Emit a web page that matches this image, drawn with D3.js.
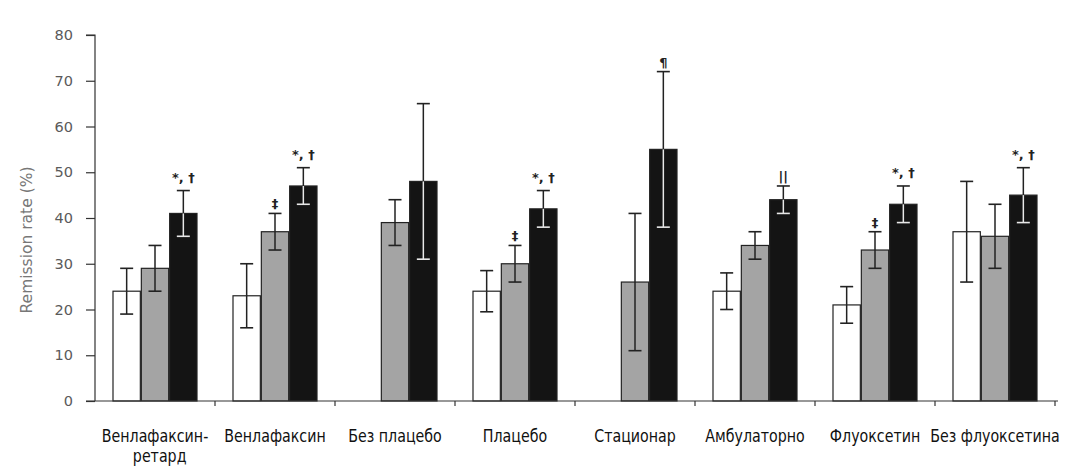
<!DOCTYPE html>
<html>
<head>
<meta charset="utf-8">
<script src="https://cdn.jsdelivr.net/npm/d3@7"></script>
<style>
  body { margin: 0; background: #fff; }
  svg { display: block; }
</style>
</head>
<body>
<div id="chart"></div>
<script>
  // group labels (one array per line of text)
  const categories = [
    ["Венлафаксин-", "ретард"],
    ["Венлафаксин"],
    ["Без плацебо"],
    ["Плацебо"],
    ["Стационар"],
    ["Амбулаторно"],
    ["Флуоксетин"],
    ["Без флуоксетина"]
  ];
  const seriesNames = ["white", "gray", "black"];

  // remission rate, %  (null = no bar)
  const whiteValues = [24, 23, null, 24, null, 24, 21, 37];
  const whiteErrors = [5, 7, null, 4.5, null, 4, 4, 11];
  const grayValues = [29, 37, 39, 30, 26, 34, 33, 36];
  const grayErrors = [5, 4, 5, 4, 15, 3, 4, 7];
  const blackValues = [41, 47, 48, 42, 55, 44, 43, 45];
  const blackErrors = [5, 4, 17, 4, 17, 3, 4, 6];

  const yTicks = [0, 10, 20, 30, 40, 50, 60, 70, 80];

  // significance marks: group index, series index, text
  const marks = [
    [0, 2, "*, †"],
    [1, 1, "‡"],
    [1, 2, "*, †"],
    [3, 1, "‡"],
    [3, 2, "*, †"],
    [4, 2, "¶"],
    [5, 2, "||"],
    [6, 1, "‡"],
    [6, 2, "*, †"],
    [7, 2, "*, †"]
  ];

  const width = 1071, height = 468;
  const mLeft = 95, mRight = 1055, mTop = 35, mBottom = 401;

  const fills = { white: "#ffffff", gray: "#a4a4a4", black: "#141414" };
  const values = { white: whiteValues, gray: grayValues, black: blackValues };
  const errors = { white: whiteErrors, gray: grayErrors, black: blackErrors };

  const svg = d3.select("#chart")
    .append("svg")
    .attr("width", width)
    .attr("height", height)
    .attr("viewBox", `0 0 ${width} ${height}`);

  const x0 = d3.scaleBand()
    .domain(d3.range(categories.length))
    .range([mLeft, mRight])
    .padding(0);

  const groupWidth = 85;
  const x1 = d3.scaleBand()
    .domain(seriesNames)
    .range([0, groupWidth]);
  const offset = (x0.bandwidth() - groupWidth) / 2;

  const y = d3.scaleLinear().domain([0, 80]).range([mBottom, mTop]);

  // y axis
  const yAxis = svg.append("g")
    .attr("transform", `translate(${mLeft},0)`)
    .call(d3.axisLeft(y).tickValues(yTicks).tickSize(9).tickPadding(13));
  yAxis.select(".domain").attr("stroke", "#333").attr("stroke-width", 1.2)
    .attr("d", `M-9,${mTop}H0V${mBottom}`);
  yAxis.selectAll(".tick line").attr("stroke", "#333").attr("stroke-width", 1.2);
  yAxis.selectAll(".tick text")
    .attr("fill", "#5a5a5a")
    .style("font-family", "'DejaVu Sans', sans-serif")
    .style("font-size", "14.5px");

  svg.append("text")
    .attr("transform", `translate(32,240) rotate(-90)`)
    .attr("text-anchor", "middle")
    .attr("fill", "#777")
    .style("font-family", "'DejaVu Sans', sans-serif")
    .style("font-size", "15.5px")
    .text("Remission rate (%)");

  // bars
  const rows = [];
  categories.forEach((c, g) => {
    seriesNames.forEach(s => {
      if (values[s][g] != null) rows.push({ g, s, v: values[s][g], e: errors[s][g] });
    });
  });

  const bx = d => x0(d.g) + offset + x1(d.s);
  const bw = x1.bandwidth();

  svg.append("g")
    .selectAll("rect")
    .data(rows)
    .enter()
    .append("rect")
    .attr("x", d => bx(d) + 0.5)
    .attr("y", d => y(d.v))
    .attr("width", bw - 1)
    .attr("height", d => y(0) - y(d.v))
    .attr("fill", d => fills[d.s])
    .attr("stroke", "#222")
    .attr("stroke-width", 1.2);

  // error bars: part above the bar dark, part inside contrasting
  const errs = svg.append("g");
  rows.forEach(d => {
    const cx = bx(d) + bw / 2;
    const inner = d.s === "black" ? "#e8e8e8" : "#222";
    errs.append("line")
      .attr("x1", cx).attr("x2", cx)
      .attr("y1", y(d.v + d.e)).attr("y2", y(d.v))
      .attr("stroke", "#222").attr("stroke-width", 1.5);
    errs.append("line")
      .attr("x1", cx - 6.5).attr("x2", cx + 6.5)
      .attr("y1", y(d.v + d.e)).attr("y2", y(d.v + d.e))
      .attr("stroke", "#222").attr("stroke-width", 1.6);
    errs.append("line")
      .attr("x1", cx).attr("x2", cx)
      .attr("y1", y(d.v)).attr("y2", y(d.v - d.e))
      .attr("stroke", inner).attr("stroke-width", 1.5);
    errs.append("line")
      .attr("x1", cx - 6.5).attr("x2", cx + 6.5)
      .attr("y1", y(d.v - d.e)).attr("y2", y(d.v - d.e))
      .attr("stroke", inner).attr("stroke-width", 1.6);
  });

  // x axis with ticks at group boundaries
  const xa = svg.append("g");
  xa.append("line")
    .attr("x1", mLeft - 9).attr("x2", mRight + 3)
    .attr("y1", mBottom).attr("y2", mBottom)
    .attr("stroke", "#333").attr("stroke-width", 1.2);
  xa.selectAll(".xtick")
    .data(d3.range(1, categories.length + 1))
    .enter()
    .append("line")
    .attr("x1", g => mLeft + g * x0.step())
    .attr("x2", g => mLeft + g * x0.step())
    .attr("y1", mBottom).attr("y2", mBottom + 5)
    .attr("stroke", "#333").attr("stroke-width", 1.2);

  // category labels (narrowed a little, like the condensed original)
  const labels = svg.append("g")
    .style("font-family", "'Liberation Sans Narrow', 'Arial Narrow', 'DejaVu Sans Condensed', sans-serif")
    .style("font-size", "17px")
    .attr("fill", "#111")
    .attr("text-anchor", "middle");
  categories.forEach((lines, g) => {
    const cx = x0(g) + x0.bandwidth() / 2;
    const t = labels.append("text")
      .attr("transform", `translate(${cx},442) scale(0.93,1)`);
    lines.forEach((ln, i) => {
      t.append("tspan")
        .attr("x", i ? 5 : 0)
        .attr("y", i ? 20 : 0)
        .text(ln);
    });
  });

  // significance marks
  svg.append("g")
    .selectAll("text")
    .data(marks)
    .enter()
    .append("text")
    .attr("x", m => x0(m[0]) + offset + x1(seriesNames[m[1]]) + bw / 2)
    .attr("y", m => y(values[seriesNames[m[1]]][m[0]] + errors[seriesNames[m[1]]][m[0]]) - (m[2].length > 1 && m[2] !== "||" ? 9 : 5))
    .attr("text-anchor", "middle")
    .attr("fill", "#222")
    .style("font-family", "'DejaVu Sans', sans-serif")
    .style("font-size", "13px")
    .style("font-weight", "bold")
    .text(m => m[2]);
</script>
</body>
</html>
